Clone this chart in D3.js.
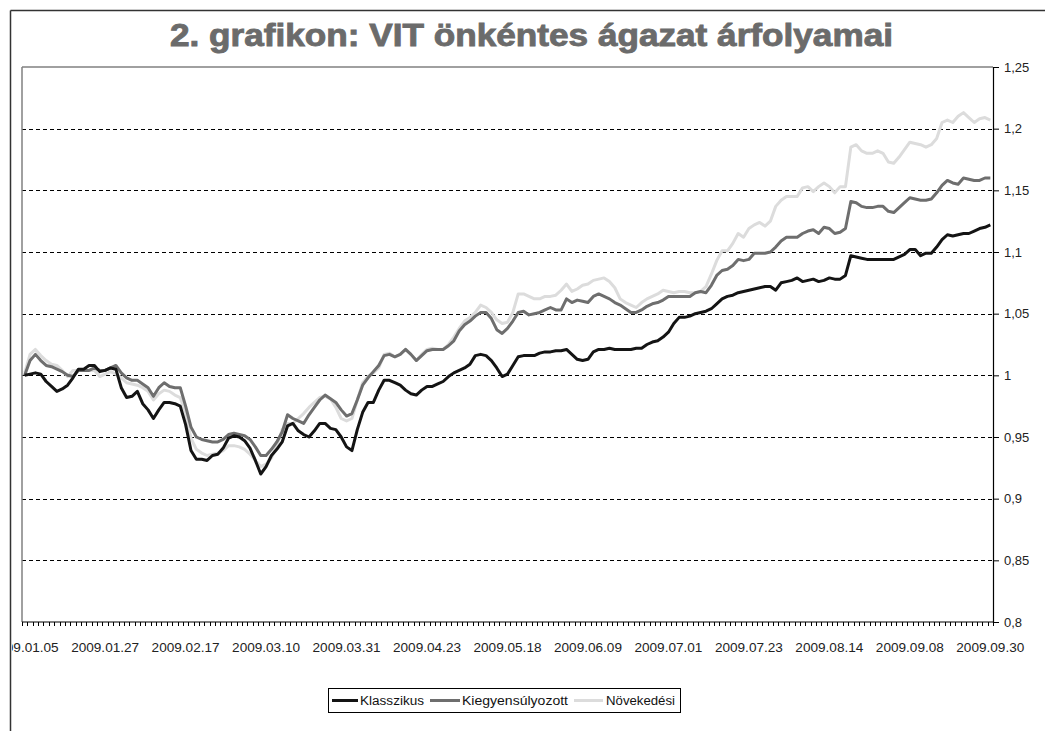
<!DOCTYPE html>
<html><head><meta charset="utf-8">
<script src="https://cdn.jsdelivr.net/npm/d3@7"></script>
<style>html,body{margin:0;padding:0;background:#fff;}svg{display:block;}</style>
</head><body>
<svg id="chart" width="1045" height="731"></svg>
<script>
const titleText = "2. grafikon: VIT önkéntes ágazat árfolyamai";
const seriesNames = ["Klasszikus", "Kiegyensúlyozott", "Növekedési"];
const seriesColors = ["#141414", "#6e6e6e", "#dcdcdc"];
const tickLabels = ["2009.01.05","2009.01.27","2009.02.17","2009.03.10","2009.03.31","2009.04.23","2009.05.18","2009.06.09","2009.07.01","2009.07.23","2009.08.14","2009.09.08","2009.09.30"];
const labelEvery = 15;
const yTicks = [0.8,0.85,0.9,0.95,1,1.05,1.1,1.15,1.2,1.25];

const klasszikus = [1.000,1.001,1.002,1.001,0.995,0.991,0.987,0.989,0.992,0.998,
1.005,1.005,1.008,1.008,1.003,1.004,1.006,1.005,0.990,0.982,
0.983,0.987,0.977,0.972,0.965,0.972,0.978,0.978,0.977,0.975,
0.960,0.939,0.932,0.932,0.931,0.935,0.936,0.941,0.949,0.951,
0.950,0.947,0.941,0.931,0.920,0.926,0.935,0.940,0.946,0.959,
0.961,0.955,0.952,0.950,0.955,0.961,0.961,0.957,0.956,0.950,
0.942,0.939,0.956,0.970,0.978,0.978,0.988,0.996,0.996,0.994,
0.992,0.988,0.985,0.984,0.988,0.991,0.991,0.993,0.995,0.999,
1.002,1.004,1.006,1.009,1.016,1.017,1.016,1.012,1.006,0.999,
1.001,1.008,1.015,1.016,1.016,1.016,1.018,1.019,1.019,1.020,
1.020,1.021,1.017,1.013,1.012,1.013,1.019,1.021,1.021,1.022,
1.021,1.021,1.021,1.021,1.022,1.022,1.025,1.027,1.028,1.031,
1.035,1.042,1.047,1.047,1.048,1.050,1.051,1.052,1.054,1.058,
1.062,1.064,1.065,1.067,1.068,1.069,1.070,1.071,1.072,1.072,
1.069,1.075,1.076,1.077,1.079,1.076,1.077,1.078,1.076,1.077,
1.079,1.078,1.078,1.081,1.097,1.096,1.095,1.094,1.094,1.094,
1.094,1.094,1.094,1.096,1.098,1.102,1.102,1.097,1.099,1.099,
1.104,1.110,1.114,1.113,1.114,1.115,1.115,1.117,1.119,1.120,
1.122];

const kiegyensulyozott = [1.000,1.012,1.017,1.012,1.008,1.007,1.005,1.003,1.000,0.999,
1.004,1.004,1.004,1.006,1.004,1.004,1.006,1.008,1.002,0.998,
0.996,0.996,0.993,0.990,0.983,0.990,0.994,0.991,0.990,0.990,
0.975,0.958,0.950,0.948,0.947,0.946,0.946,0.948,0.952,0.953,
0.952,0.951,0.948,0.942,0.935,0.935,0.940,0.946,0.954,0.968,
0.965,0.963,0.961,0.968,0.974,0.980,0.984,0.981,0.978,0.972,
0.967,0.969,0.980,0.992,0.998,1.003,1.008,1.016,1.017,1.015,
1.017,1.021,1.017,1.012,1.016,1.020,1.021,1.021,1.021,1.024,
1.028,1.036,1.041,1.044,1.048,1.051,1.051,1.046,1.037,1.034,
1.038,1.044,1.051,1.052,1.049,1.050,1.051,1.053,1.055,1.053,
1.053,1.062,1.059,1.061,1.060,1.059,1.064,1.066,1.064,1.062,
1.059,1.057,1.054,1.051,1.051,1.053,1.056,1.058,1.059,1.061,
1.064,1.064,1.064,1.064,1.064,1.067,1.068,1.067,1.073,1.081,
1.085,1.086,1.089,1.094,1.093,1.094,1.099,1.099,1.099,1.100,
1.104,1.109,1.112,1.112,1.112,1.115,1.117,1.118,1.115,1.120,
1.119,1.115,1.116,1.119,1.141,1.140,1.137,1.136,1.136,1.137,
1.137,1.133,1.132,1.136,1.140,1.144,1.143,1.142,1.142,1.143,
1.148,1.154,1.158,1.156,1.155,1.160,1.159,1.158,1.158,1.160,
1.160];

const novekedesi = [1.002,1.017,1.021,1.016,1.012,1.009,1.008,1.004,0.999,1.004,
1.004,1.004,1.004,1.004,0.999,1.001,1.003,1.001,0.998,0.994,
0.993,0.992,0.990,0.987,0.980,0.985,0.988,0.987,0.984,0.982,
0.969,0.949,0.940,0.937,0.935,0.936,0.937,0.939,0.943,0.943,
0.942,0.940,0.936,0.931,0.926,0.928,0.933,0.943,0.956,0.961,
0.961,0.965,0.969,0.974,0.978,0.982,0.983,0.981,0.974,0.965,
0.963,0.965,0.980,0.994,0.999,1.002,1.006,1.017,1.018,1.015,
1.017,1.021,1.017,1.012,1.017,1.021,1.022,1.021,1.021,1.025,
1.031,1.038,1.044,1.047,1.051,1.057,1.055,1.051,1.045,1.042,
1.043,1.051,1.066,1.066,1.064,1.062,1.062,1.064,1.064,1.065,
1.069,1.074,1.068,1.070,1.073,1.074,1.077,1.078,1.079,1.076,
1.071,1.062,1.059,1.057,1.055,1.059,1.062,1.064,1.066,1.069,
1.068,1.067,1.068,1.068,1.067,1.067,1.068,1.072,1.082,1.093,
1.101,1.101,1.107,1.115,1.112,1.119,1.122,1.124,1.121,1.125,
1.137,1.142,1.145,1.145,1.145,1.152,1.153,1.149,1.153,1.156,
1.153,1.148,1.153,1.153,1.185,1.187,1.182,1.180,1.180,1.182,
1.180,1.173,1.172,1.177,1.183,1.189,1.188,1.187,1.185,1.187,
1.192,1.205,1.207,1.205,1.210,1.213,1.209,1.205,1.208,1.209,
1.207];

const seriesValues = [klasszikus, kiegyensulyozott, novekedesi];
const categories = d3.range(klasszikus.length);

const svg = d3.select("#chart");
svg.append("rect").attr("width",1045).attr("height",731).attr("fill","#fff");

const L = 22, R = 993, T = 67, B = 622;
const x = d3.scaleBand().domain(categories).range([L, R]).padding(0);
const y = d3.scaleLinear().domain([0.8, 1.25]).range([B, T]);
const cx = i => x(i) + x.bandwidth()/2;

// outer frame
svg.append("line").attr("x1",10.5).attr("x2",1045).attr("y1",10.5).attr("y2",10.5).attr("stroke","#333").attr("stroke-width",1.5);
svg.append("line").attr("x1",10.5).attr("x2",10.5).attr("y1",10.5).attr("y2",731).attr("stroke","#333").attr("stroke-width",1.5);

// title
svg.append("text").attr("x",170).attr("y",46)
  .attr("textLength",723).attr("lengthAdjust","spacingAndGlyphs")
  .attr("font-family","'Liberation Sans', Arial, sans-serif").attr("font-weight","bold")
  .attr("font-size",31).attr("fill","#6b6b6b").attr("stroke","#6b6b6b").attr("stroke-width",0.9)
  .text(titleText);

// gridlines
svg.append("g").selectAll("line").data(yTicks.filter(v => v > 0.8 && v < 1.25)).join("line")
  .attr("x1",L).attr("x2",R).attr("y1",d=>Math.round(y(d))+0.5).attr("y2",d=>Math.round(y(d))+0.5)
  .attr("stroke","#000").attr("stroke-width",1).attr("stroke-dasharray","4,3");

// plot area border (top, left)
svg.append("line").attr("x1",L).attr("x2",R).attr("y1",T).attr("y2",T).attr("stroke","#808080").attr("stroke-width",1.5);
svg.append("line").attr("x1",L).attr("x2",L).attr("y1",T).attr("y2",B).attr("stroke","#808080").attr("stroke-width",1.5);

// right axis
const fmt = d => String(+d.toFixed(2)).replace(".", ",");
const yAxis = d3.axisRight(y).tickValues(yTicks).tickSize(6).tickPadding(5).tickFormat(fmt);
const ga = svg.append("g").attr("transform",`translate(${R},0)`).call(yAxis);
ga.select(".domain").attr("stroke","#000").attr("stroke-width",1.2);
ga.selectAll(".tick line").attr("stroke","#000");
ga.selectAll(".tick text").attr("font-family","'Liberation Sans', Arial, sans-serif").attr("font-size",13).attr("fill","#222");

// bottom axis
svg.append("line").attr("x1",L).attr("x2",R).attr("y1",B).attr("y2",B).attr("stroke","#000").attr("stroke-width",1.2);
const bounds = d3.range(categories.length + 1).map(k => k === categories.length ? R : x(k));
svg.append("g").selectAll("line").data(bounds).join("line")
  .attr("x1",d=>Math.round(d)+0.5).attr("x2",d=>Math.round(d)+0.5).attr("y1",B).attr("y2",B+4)
  .attr("stroke","#000").attr("stroke-width",1);

const clip = svg.append("clipPath").attr("id","lblclip").append("rect").attr("x",12).attr("y",620).attr("width",1033).attr("height",60);
svg.append("g").attr("clip-path","url(#lblclip)").selectAll("text").data(tickLabels).join("text")
  .attr("x",(d,j)=>cx(j*labelEvery)).attr("y",652).attr("text-anchor","middle")
  .attr("font-family","'Liberation Sans', Arial, sans-serif").attr("font-size",13).attr("fill","#222")
  .attr("textLength",68).attr("lengthAdjust","spacingAndGlyphs")
  .text(d=>d);

// lines (draw light first so dark on top)
const line = d3.line().x((d,i)=>cx(i)).y(d=>y(d)).curve(d3.curveLinear);
const order = [2,1,0];
svg.append("g").selectAll("path").data(order).join("path")
  .attr("d",k=>line(seriesValues[k])).attr("fill","none")
  .attr("stroke",k=>seriesColors[k]).attr("stroke-width",3).attr("stroke-linejoin","round");

// legend
const lg = svg.append("g");
lg.append("rect").attr("x",328.5).attr("y",688.5).attr("width",352).attr("height",24).attr("fill","#fff").attr("stroke","#000").attr("stroke-width",1);
const legendItems = [
  {sx:332, ex:358, tx:360},
  {sx:430, ex:460, tx:462},
  {sx:574, ex:603, tx:606}
];
const legendWidths = [64, 106, 69];
legendItems.forEach((it, k) => {
  lg.append("line").attr("x1",it.sx).attr("x2",it.ex).attr("y1",700.5).attr("y2",700.5)
    .attr("stroke",seriesColors[k]).attr("stroke-width",3);
  lg.append("text").attr("x",it.tx).attr("y",705).attr("font-family","'Liberation Sans', Arial, sans-serif")
    .attr("font-size",12.5).attr("fill","#111").attr("textLength",legendWidths[k]).attr("lengthAdjust","spacingAndGlyphs")
    .text(seriesNames[k]);
});
</script>
</body></html>
